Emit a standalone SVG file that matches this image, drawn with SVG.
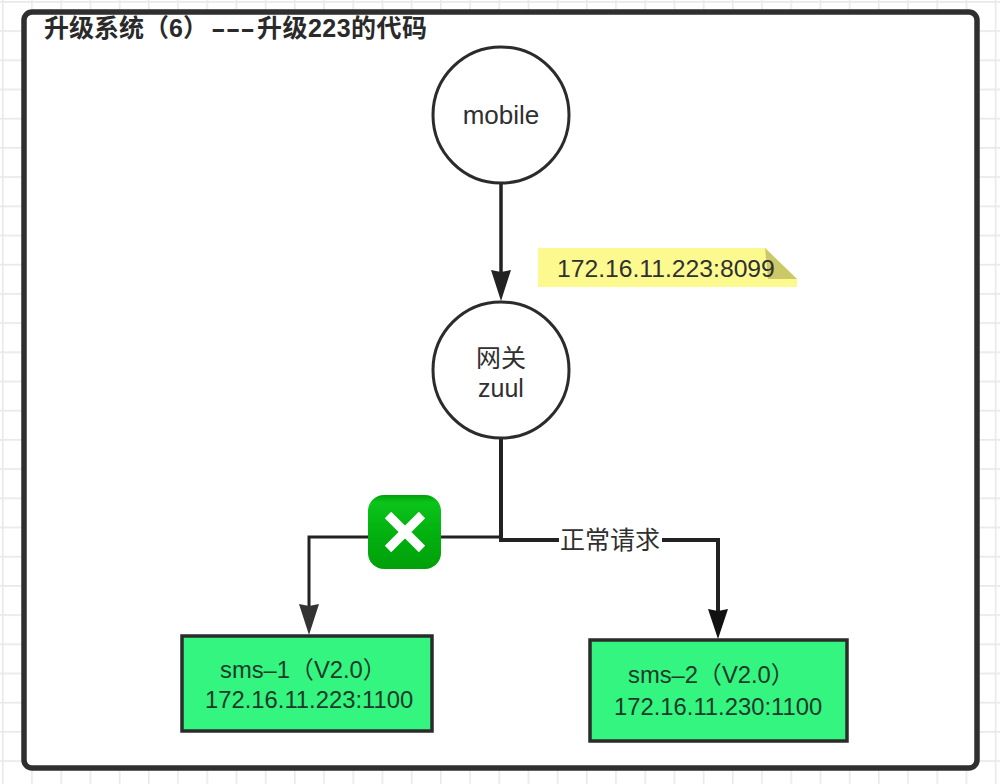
<svg xmlns="http://www.w3.org/2000/svg" width="1000" height="784" viewBox="0 0 1000 784">
<defs>
<pattern id="grid" x="2" y="1" width="29.2" height="29.2" patternUnits="userSpaceOnUse"><path d="M0.8 0V29.2M0 0.8H29.2" fill="none" stroke="#e9e9e9" stroke-width="1.6"/></pattern>
<linearGradient id="g" x1="0" y1="0" x2="0" y2="1"><stop offset="0" stop-color="#009f0a"/><stop offset="0.1" stop-color="#0bc41a"/><stop offset="0.55" stop-color="#02b010"/><stop offset="1" stop-color="#00a008"/></linearGradient>
</defs>
<style>
text{font-family:"Liberation Sans","Noto Sans CJK SC",sans-serif;fill:#303030}
.n{fill:#fff;stroke:#2b2b2b;stroke-width:3}
.b{fill:#33f57f;stroke:#2b2b2b;stroke-width:3.5}
.c{fill:none;stroke:#222;stroke-linejoin:miter}
.t{font-size:25px;text-anchor:middle}
.s{font-size:23.8px;fill:#1d3a2a}
</style>
<rect width="1000" height="784" fill="#fff"/>
<rect width="1000" height="784" fill="url(#grid)"/>
<g id="frame"><rect x="24" y="12" width="953" height="756" rx="8" fill="#fff" stroke="#2f2f2f" stroke-width="5.5"/>
<text x="44" y="37" font-size="25" font-weight="bold" style="fill:#2a2a2a">升级系统（6）<tspan x="211" textLength="44" lengthAdjust="spacingAndGlyphs">---</tspan><tspan x="257" textLength="170">升级223的代码</tspan></text></g>
<g id="connectors">
<path class="c" stroke-width="3.5" d="M501 184V272"/>
<path d="M491 270L501 301L511 270L501 272Z" fill="#222"/>
<path class="c" stroke-width="4" d="M501 439V540H718V611"/>
<path d="M708 609L718 639L728 609L718 611Z" fill="#111"/>
<path class="c" stroke-width="3" d="M501 537H309V606"/>
<path d="M299 604L309 635L319 604L309 606Z" fill="#333"/>
</g>
<g id="mobile"><circle class="n" cx="501" cy="115" r="68"/><text x="501" y="124" font-size="26" text-anchor="middle">mobile</text></g>
<g id="note"><path d="M538 248H765L797 279V287H538Z" fill="#fcfa8f"/><path d="M765 248L797 279H768Z" fill="#cbc967"/>
<text x="557" y="277" font-size="24.7">172.16.11.223:8099</text></g>
<g id="zuul"><circle class="n" cx="501" cy="370" r="68"/><text class="t" x="501" y="367">网关</text><text class="t" x="501" y="397">zuul</text></g>
<g id="fail"><rect x="368" y="495" width="73" height="74" rx="16" fill="url(#g)"/><path d="M388 515L422 549M422 515L388 549" stroke="#fff" stroke-width="9" fill="none"/></g>
<g id="edge-label"><rect x="559" y="525" width="103" height="30" fill="#fff"/><text x="610" y="549" font-size="25" text-anchor="middle">正常请求</text></g>
<g id="sms-1"><rect class="b" x="182" y="636" width="250" height="95"/><text class="s" x="220" y="678">sms–1（V2.0）</text><text class="s" x="205" y="708">172.16.11.223:1100</text></g>
<g id="sms-2"><rect class="b" x="590" y="640" width="257" height="101"/><text class="s" x="628" y="683">sms–2（V2.0）</text><text class="s" x="614" y="715">172.16.11.230:1100</text></g>
</svg>
